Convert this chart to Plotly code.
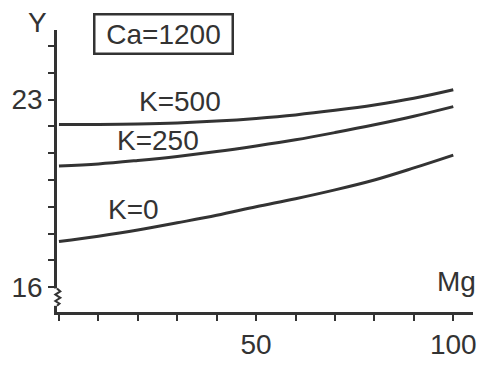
import plotly.graph_objects as go

mg = [0, 10, 20, 30, 40, 50, 60, 70, 80, 90, 100]
y_k500 = [22.07, 22.07, 22.09, 22.13, 22.20, 22.30, 22.43, 22.60, 22.80, 23.05, 23.37]
y_k250 = [20.52, 20.60, 20.73, 20.88, 21.06, 21.27, 21.50, 21.77, 22.06, 22.38, 22.74]
y_k0 = [17.70, 17.90, 18.13, 18.40, 18.68, 19.00, 19.30, 19.63, 20.00, 20.45, 20.93]
series = [("K=500", y_k500), ("K=250", y_k250), ("K=0", y_k0)]

x_tickvals = [0, 10, 20, 30, 40, 50, 60, 70, 80, 90, 100]
x_ticktext = ["", "", "", "", "", "50", "", "", "", "", "100"]
y_tickvals = [16, 17, 18, 19, 20, 21, 22, 23, 24, 25]
y_ticktext = ["16", "", "", "", "", "", "", "23", "", ""]

ink = "#333333"
font = "Liberation Sans, Arial, sans-serif"
fs = 28

fig = go.Figure()
for name, ys in series:
    fig.add_trace(go.Scatter(x=mg, y=ys, mode="lines", name=name,
                             line=dict(color=ink, width=3, shape="spline"),
                             showlegend=False, hoverinfo="skip"))

labels = [("K=500", 30.8, 22.93), ("K=250", 25.2, 21.48), ("K=0", 18.8, 18.89)]
annotations = [dict(x=x, y=y, xref="x", yref="y", text=t, showarrow=False,
                    xanchor="center", yanchor="middle",
                    font=dict(size=fs, color=ink, family=font)) for t, x, y in labels]
annotations.append(dict(x=100.8, y=16.22, xref="x", yref="y", text="Mg", showarrow=False,
                        xanchor="center", yanchor="middle",
                        font=dict(size=fs, color=ink, family=font)))
annotations.append(dict(x=-0.046, y=1.028, xref="paper", yref="paper", text="Y", showarrow=False,
                        xanchor="center", yanchor="middle",
                        font=dict(size=fs, color=ink, family=font)))
annotations.append(dict(x=0.257, y=0.986, xref="paper", yref="paper", text="Ca=1200",
                        showarrow=False, xanchor="center", yanchor="middle",
                        font=dict(size=fs, color=ink, family=font),
                        bordercolor=ink, borderwidth=2.5, borderpad=2,
                        width=132, height=33, bgcolor="white"))

fig.update_layout(
    width=481, height=365,
    margin=dict(l=57, r=8, t=30, b=53, autoexpand=False),
    plot_bgcolor="white", paper_bgcolor="white",
    annotations=annotations,
    xaxis=dict(range=[-0.5, 105], showgrid=False, zeroline=False, automargin=False,
               showline=True, linecolor=ink, linewidth=2.5,
               ticks="outside", ticklen=6, tickwidth=2, tickcolor=ink,
               tickvals=x_tickvals, ticktext=x_ticktext, ticklabelstandoff=0,
               tickfont=dict(size=fs, color=ink, family=font)),
    yaxis=dict(range=[15.07, 25.6], showgrid=False, zeroline=False, automargin=False,
               showline=True, linecolor=ink, linewidth=2.5,
               ticks="outside", ticklen=6, tickwidth=2, tickcolor=ink,
               tickvals=y_tickvals, ticktext=y_ticktext,
               tickfont=dict(size=fs, color=ink, family=font)),
)

# axis break zigzag below 16
fig.add_shape(type="rect", xref="paper", yref="y", x0=-0.01, x1=0.01, y0=15.3, y1=15.95,
              line=dict(width=0), fillcolor="white", layer="above")
fig.add_shape(type="path", xref="paper", yref="y",
              path="M 0 15.95 L 0.008 15.84 L -0.004 15.72 L 0.008 15.6 L -0.004 15.48 L 0.006 15.38 L 0 15.3",
              line=dict(color=ink, width=2), layer="above")

fig.write_html("out.html", config={"displayModeBar": False},
               post_script="document.body.style.margin='0';")
